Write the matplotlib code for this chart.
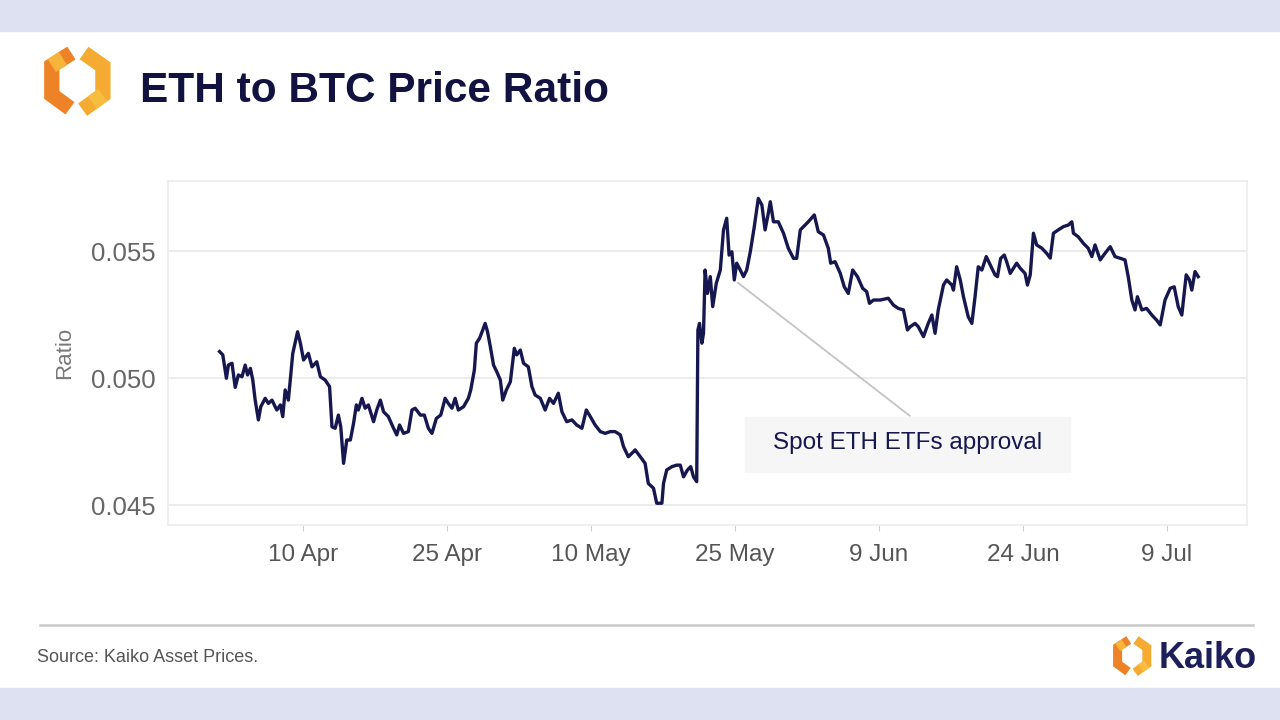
import matplotlib
matplotlib.use("Agg")
import matplotlib.pyplot as plt
from matplotlib.patches import Rectangle
import pandas as pd

plt.rcParams['font.family'] = ['Liberation Sans', 'DejaVu Sans']

# ---------------- data ----------------
start_date = "2024-04-01"
hours = [7, 15, 24, 29, 38, 46, 54, 63, 71, 77, 84, 90, 96, 104, 110, 121, 129, 138, 150, 159,
         165, 171, 179, 190, 202, 209, 217, 229, 238, 250, 259, 271, 282, 288, 296, 304, 310, 317, 325, 334,
         342, 349, 354, 363, 371, 379, 392, 400, 409, 417, 429, 442, 450, 457, 467, 479, 488, 496, 509, 519,
         529, 538, 549, 560, 571, 579, 588, 596, 604, 617, 629, 635, 644, 649, 657, 665, 671, 677, 684, 692,
         700, 709, 715, 724, 734, 744, 750, 759, 767, 779, 788, 796, 809, 821, 832, 842, 854, 863, 875, 888,
         900, 913, 924, 934, 946, 959, 971, 984, 996, 1009, 1017, 1029, 1042, 1046, 1059, 1071, 1079, 1092, 1100, 1113,
         1117, 1125, 1138, 1150, 1159, 1167, 1177, 1185, 1192, 1200, 1203, 1207, 1213, 1217, 1221, 1227, 1234, 1240, 1249, 1259,
         1267, 1275, 1281, 1288, 1294, 1300, 1309, 1317, 1325, 1334, 1344, 1354, 1363, 1371, 1379, 1384, 1392, 1404, 1417, 1429,
         1442, 1450, 1459, 1467, 1479, 1494, 1504, 1517, 1529, 1535, 1546, 1559, 1569, 1579, 1590, 1602, 1615, 1625, 1632, 1642,
         1659, 1679, 1692, 1704, 1717, 1727, 1734, 1746, 1754, 1767, 1779, 1788, 1796, 1804, 1817, 1825, 1838, 1842, 1850, 1859,
         1867, 1879, 1888, 1896, 1904, 1913, 1924, 1934, 1946, 1952, 1960, 1969, 1975, 1984, 1992, 2000, 2009, 2021, 2027, 2034,
         2042, 2050, 2063, 2075, 2084, 2092, 2104, 2117, 2129, 2138, 2142, 2154, 2167, 2179, 2188, 2196, 2209, 2221, 2234, 2246,
         2259, 2271, 2279, 2288, 2296, 2302, 2313, 2325, 2338, 2350, 2359, 2371, 2384, 2394, 2404, 2413, 2424, 2432, 2438, 2446,
         2454]
ratio = [0.05104, 0.05091, 0.04999, 0.05051, 0.05058, 0.04963, 0.05012, 0.05005, 0.05051, 0.05012,
         0.05038, 0.04992, 0.04913, 0.04835, 0.04887, 0.04920, 0.04900, 0.04913, 0.04874, 0.04894,
         0.04848, 0.04953, 0.04913, 0.05097, 0.05182, 0.05137, 0.05071, 0.05097, 0.05044, 0.05064,
         0.05005, 0.04992, 0.04966, 0.04808, 0.04802, 0.04854, 0.04808, 0.04664, 0.04756, 0.04756,
         0.04822, 0.04894, 0.04874, 0.04920, 0.04881, 0.04894, 0.04828, 0.04874, 0.04913, 0.04867,
         0.04848, 0.04802, 0.04776, 0.04815, 0.04782, 0.04789, 0.04874, 0.04881, 0.04854, 0.04854,
         0.04802, 0.04782, 0.04841, 0.04854, 0.04920, 0.04900, 0.04881, 0.04920, 0.04874, 0.04887,
         0.04920, 0.04953, 0.05031, 0.05137, 0.05156, 0.05189, 0.05215, 0.05182, 0.05123, 0.05051,
         0.05025, 0.04992, 0.04913, 0.04953, 0.04985, 0.05117, 0.05091, 0.05110, 0.05058, 0.05044,
         0.04966, 0.04933, 0.04920, 0.04874, 0.04920, 0.04900, 0.04940, 0.04867, 0.04828, 0.04835,
         0.04815, 0.04802, 0.04874, 0.04848, 0.04815, 0.04789, 0.04782, 0.04789, 0.04789, 0.04776,
         0.04730, 0.04690, 0.04710, 0.04717, 0.04690, 0.04664, 0.04585, 0.04566, 0.04507, 0.04507,
         0.04585, 0.04638, 0.04651, 0.04657, 0.04657, 0.04611, 0.04638, 0.04651, 0.04611, 0.04592,
         0.05189, 0.05215, 0.05137, 0.05176, 0.05425, 0.05333, 0.05399, 0.05281, 0.05373, 0.05425,
         0.05583, 0.05629, 0.05484, 0.05497, 0.05386, 0.05452, 0.05425, 0.05399, 0.05425, 0.05497,
         0.05596, 0.05707, 0.05681, 0.05583, 0.05648, 0.05694, 0.05615, 0.05615, 0.05570, 0.05511,
         0.05471, 0.05471, 0.05583, 0.05596, 0.05615, 0.05642, 0.05576, 0.05563, 0.05511, 0.05452,
         0.05458, 0.05412, 0.05359, 0.05333, 0.05425, 0.05399, 0.05353, 0.05340, 0.05294, 0.05307,
         0.05307, 0.05314, 0.05287, 0.05274, 0.05268, 0.05189, 0.05202, 0.05215, 0.05202, 0.05163,
         0.05215, 0.05248, 0.05176, 0.05268, 0.05366, 0.05386, 0.05366, 0.05346, 0.05438, 0.05386,
         0.05320, 0.05241, 0.05215, 0.05320, 0.05438, 0.05425, 0.05478, 0.05445, 0.05406, 0.05399,
         0.05471, 0.05484, 0.05458, 0.05412, 0.05432, 0.05452, 0.05432, 0.05412, 0.05366, 0.05406,
         0.05570, 0.05524, 0.05511, 0.05491, 0.05472, 0.05570, 0.05583, 0.05596, 0.05602, 0.05615,
         0.05570, 0.05556, 0.05530, 0.05511, 0.05478, 0.05524, 0.05465, 0.05491, 0.05517, 0.05478,
         0.05471, 0.05465, 0.05399, 0.05307, 0.05268, 0.05320, 0.05268, 0.05274, 0.05248, 0.05228,
         0.05209, 0.05307, 0.05353, 0.05359, 0.05281, 0.05248, 0.05406, 0.05386, 0.05346, 0.05419,
         0.05399]
tick_dates = ["2024-04-10", "2024-04-25", "2024-05-10", "2024-05-25", "2024-06-09", "2024-06-24", "2024-07-09"]
tick_labels = ["10 Apr", "25 Apr", "10 May", "25 May", "9 Jun", "24 Jun", "9 Jul"]
y_ticks = [0.045, 0.050, 0.055]
y_tick_labels = ["0.045", "0.050", "0.055"]
title = "ETH to BTC Price Ratio"
annotation_text = "Spot ETH ETFs approval"
annotation_time = "2024-05-24 22:00"
annotation_value = 0.05386
source_text = "Source: Kaiko Asset Prices."

dates = pd.Timestamp(start_date) + pd.to_timedelta(hours, unit="h")

# ---------------- figure ----------------
W, H = 1280, 720
fig = plt.figure(figsize=(12.8, 7.2), dpi=100)
fig.patch.set_facecolor("white")

def fx(px):
    return px / W

def fy(py):
    return 1 - py / H

band = "#dde1f1"
fig.patches.append(Rectangle((0, fy(31)), 1, 31 / H, transform=fig.transFigure, color=band, zorder=0))
fig.patches.append(Rectangle((0, 0), 1, 32 / H, transform=fig.transFigure, color=band, zorder=0))

navy = "#16174f"

# main axes
ax = fig.add_axes([fx(168), fy(525), fx(1247) - fx(168), fy(181) - fy(525)])
ax.plot(dates, ratio, color=navy, lw=2.4, solid_joinstyle="round", zorder=3)
ax.set_xlim(pd.Timestamp("2024-03-26 22:00"), pd.Timestamp("2024-07-17 08:00"))
ax.set_ylim(0.044213, 0.057756)
ax.set_xticks(pd.to_datetime(tick_dates))
ax.set_xticklabels(tick_labels)
ax.set_yticks(y_ticks)
ax.set_yticklabels(y_tick_labels)
ax.tick_params(axis="x", length=4, color="#d0d0d0", labelsize=17.5, labelcolor="#555555", pad=10)
ax.tick_params(axis="y", length=0, labelsize=18.5, labelcolor="#666666", pad=9)
ax.grid(axis="y", color="#e9e9e9", lw=1.2)
for s in ax.spines.values():
    s.set_color("#ececec")
    s.set_linewidth(1.2)
ax.set_ylabel("Ratio", fontsize=16, color="#777777", labelpad=11)

# annotation
ax.annotate("", xy=(pd.Timestamp(annotation_time), annotation_value),
            xytext=(910, H - 416), textcoords="figure pixels",
            arrowprops=dict(arrowstyle="-", color="#c4c4c4", lw=1.3, shrinkA=0, shrinkB=3), zorder=2)
fig.patches.append(Rectangle((fx(745), fy(472)), fx(1070) - fx(745), (472 - 417) / H,
                             transform=fig.transFigure, color="#f6f6f6", zorder=1))
fig.text(fx(908), fy(443), annotation_text, ha="center", va="center", fontsize=17.5, color=navy)

# title
fig.text(fx(140), fy(91), title, ha="left", va="center", fontsize=30.5, fontweight="bold", color="#11123f")

# logos
def draw_logo(x0, y0, size, lw):
    lax = fig.add_axes([fx(x0), fy(y0 + size), size / W, size / H])
    lax.set_xlim(0, 1)
    lax.set_ylim(0, 1)
    lax.axis("off")
    lax.plot([0.42, 0.14, 0.14, 0.40], [0.90, 0.72, 0.30, 0.11], color="#ee8226",
             lw=lw, solid_capstyle="butt", solid_joinstyle="miter")
    lax.plot([0.60, 0.87, 0.87, 0.58], [0.90, 0.71, 0.30, 0.09], color="#f5aa31",
             lw=lw, solid_capstyle="butt", solid_joinstyle="miter")
    lax.plot([0.30, 0.14], [0.82, 0.72], color="#f6b53a", lw=lw, solid_capstyle="butt")
    lax.plot([0.87, 0.72], [0.30, 0.19], color="#f7bd3e", lw=lw, solid_capstyle="butt")

draw_logo(42, 46, 70, 11)
draw_logo(1112, 636, 40, 6.5)
fig.text(fx(1159), fy(659), "Kaiko", ha="left", va="center", fontsize=26, fontweight="bold", color="#1d1f5a")

# footer
fig.add_artist(plt.Line2D([fx(40), fx(1253)], [fy(625), fy(625)], color="#c9c9c9", lw=1.8,
                          transform=fig.transFigure))
fig.text(fx(37), fy(658), source_text, ha="left", va="center", fontsize=13, color="#555555")

fig.savefig("out.png", dpi=100, facecolor=fig.get_facecolor())
